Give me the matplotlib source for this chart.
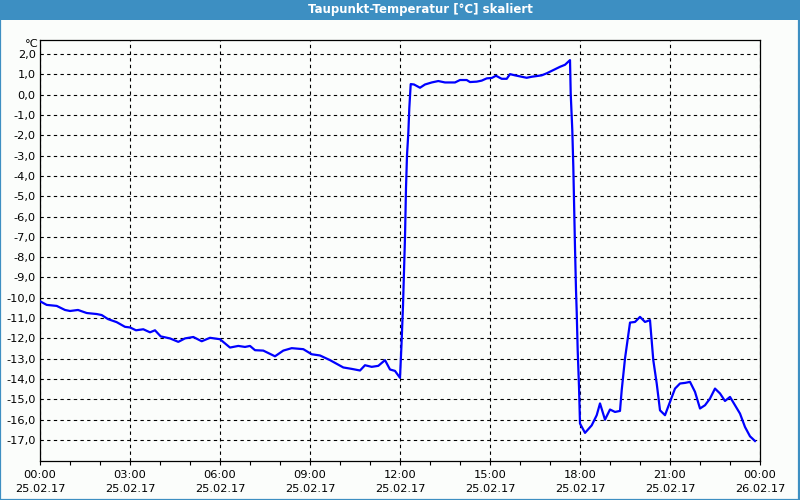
import matplotlib
matplotlib.use("Agg")
import matplotlib.pyplot as plt
from matplotlib.patches import Rectangle
from matplotlib.ticker import FixedLocator, MultipleLocator

# ---- data (hours since 25.02.17 00:00, dew point in °C) ----
hours = [0.0, 0.223, 0.557, 0.833, 1.0, 1.267, 1.557, 1.89, 2.057, 2.267, 2.557, 2.833,
         3.0, 3.2, 3.443, 3.667, 3.833, 4.023, 4.333, 4.61, 4.833, 5.11, 5.39, 5.667,
         6.0, 6.333, 6.61, 6.833, 7.0, 7.167, 7.443, 7.833, 8.11, 8.39, 8.777, 9.057,
         9.333, 9.667, 10.11, 10.39, 10.667, 10.833, 11.057, 11.277, 11.5, 11.667, 11.833,
         12.0, 12.05, 12.1, 12.167, 12.2, 12.233, 12.277, 12.31, 12.357, 12.467, 12.667,
         12.833, 13.057, 13.277, 13.5, 13.833, 14.0, 14.223, 14.333, 14.557, 14.723, 14.89,
         15.057, 15.2, 15.39, 15.557, 15.667, 15.833, 16.057, 16.223, 16.39, 16.723, 16.89,
         17.11, 17.333, 17.5, 17.667, 17.69, 17.743, 17.777, 17.833, 17.867, 17.89, 17.923,
         17.967, 18.0, 18.167, 18.39, 18.557, 18.667, 18.833, 19.0, 19.167, 19.333, 19.39,
         19.5, 19.667, 19.833, 20.0, 20.167, 20.333, 20.443, 20.557, 20.667, 20.833, 21.0,
         21.167, 21.333, 21.5, 21.667, 21.833, 22.0, 22.167, 22.333, 22.5, 22.667, 22.833,
         23.0, 23.167, 23.333, 23.5, 23.667, 23.833]
dewpoint = [-10.17, -10.35, -10.4, -10.6, -10.65, -10.6, -10.75, -10.8, -10.85, -11.05, -11.2, -11.43,
            -11.46, -11.6, -11.55, -11.7, -11.6, -11.9, -12.0, -12.17, -12.0, -11.93, -12.14, -11.97,
            -12.04, -12.45, -12.37, -12.42, -12.37, -12.58, -12.6, -12.88, -12.6, -12.48, -12.53, -12.78,
            -12.84, -13.07, -13.43, -13.5, -13.58, -13.32, -13.4, -13.35, -13.07, -13.53, -13.6,
            -13.94, -12.3, -10.4, -7.0, -4.6, -3.0, -1.9, -0.67, 0.52, 0.5, 0.34,
            0.5, 0.6, 0.67, 0.6, 0.6, 0.72, 0.72, 0.62, 0.64, 0.69, 0.8,
            0.82, 0.93, 0.78, 0.78, 1.01, 0.95, 0.88, 0.83, 0.88, 0.95, 1.05,
            1.21, 1.37, 1.47, 1.7, 0.06, -1.74, -3.55, -7.5, -9.63, -10.69, -12.58,
            -14.39, -16.19, -16.65, -16.28, -15.78, -15.2, -16.0, -15.5, -15.62, -15.57, -14.55,
            -12.99, -11.22, -11.19, -10.94, -11.19, -11.1, -13.07, -14.22, -15.54, -15.78, -15.13,
            -14.47, -14.22, -14.19, -14.14, -14.63, -15.45, -15.29, -14.96, -14.47, -14.71, -15.08,
            -14.88, -15.29, -15.7, -16.36, -16.82, -17.05]

x_tick_hours = [0, 3, 6, 9, 12, 15, 18, 21, 24]
x_tick_labels = ["00:00\n25.02.17", "03:00\n25.02.17", "06:00\n25.02.17", "09:00\n25.02.17",
                 "12:00\n25.02.17", "15:00\n25.02.17", "18:00\n25.02.17", "21:00\n25.02.17",
                 "00:00\n26.02.17"]
y_ticks = list(range(-17, 3))
title = "Taupunkt-Temperatur [°C] skaliert"
unit = "°C"

BG = "#fbfdfb"
BAR = "#3d8fc2"

fig = plt.figure(figsize=(8, 5), dpi=100, facecolor=BG)

# title bar and window border
fig.patches.append(Rectangle((0, 0.96), 1, 0.04, transform=fig.transFigure,
                             facecolor=BAR, edgecolor="none", zorder=0))
fig.patches.append(Rectangle((0.0006, 0.001), 0.9982, 0.998, transform=fig.transFigure,
                             facecolor="none", edgecolor=BAR, linewidth=1.6, zorder=0))
fig.text(0.525, 0.98, title, color="white", fontsize=8.5, fontweight="bold",
         ha="center", va="center", family="DejaVu Sans")

ax = fig.add_axes([0.05, 0.0786, 0.9, 0.8414], facecolor=BG)
ax.plot(hours, dewpoint, color="#0000ff", linewidth=1.6, solid_joinstyle="round", zorder=3)

ax.set_xlim(0, 24)
ax.set_ylim(-18.02, 2.69)

ax.xaxis.set_major_locator(FixedLocator(x_tick_hours))
ax.set_xticklabels(x_tick_labels)
ax.xaxis.set_minor_locator(MultipleLocator(1))
ax.set_yticks(y_ticks)
ax.set_yticklabels([f"{v:.1f}".replace(".", ",") for v in y_ticks])

ax.tick_params(axis="x", which="both", direction="out", length=3, width=0.8,
               labelsize=8.2, pad=4, colors="black")
ax.tick_params(axis="y", which="both", length=0, labelsize=8.2, pad=3)
for lbl in ax.get_xticklabels():
    lbl.set_linespacing(1.45)

ax.grid(True, which="major", color="black", linestyle=(0, (3, 3)), linewidth=0.8)
for s in ax.spines.values():
    s.set_color("black")
    s.set_linewidth(0.9)

fig.text(0.0475, 0.912, unit, fontsize=8.2, ha="right", va="center")

fig.savefig("out.png", dpi=100, facecolor=BG)
